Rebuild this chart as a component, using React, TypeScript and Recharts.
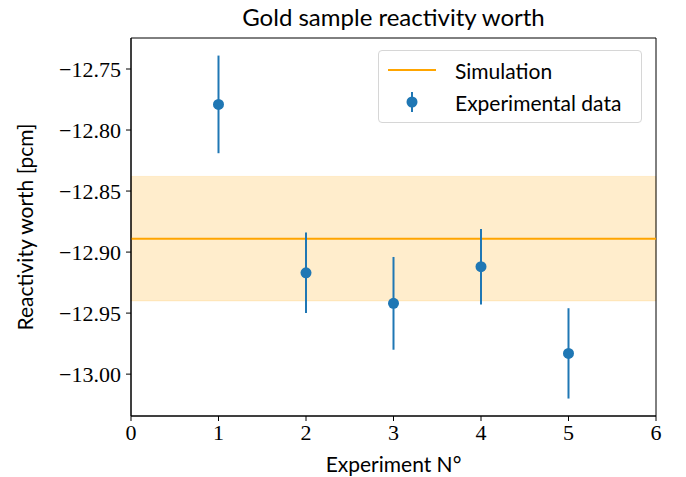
import React from "react";
import {
  ComposedChart,
  Scatter,
  ErrorBar,
  XAxis,
  YAxis,
  ReferenceLine,
  ReferenceArea,
} from "recharts";

// experiment numbers and measured worths [pcm] with 1-sigma errors
const experiments = [1, 2, 3, 4, 5];
const measured = [-12.779, -12.917, -12.942, -12.912, -12.983];
const measuredErr = [0.04, 0.033, 0.038, 0.031, 0.037];

// simulated worth and its uncertainty band
const simulation = -12.889;
const simulationErr = 0.051;

const xTicks = [0, 1, 2, 3, 4, 5, 6];
const yTicks = [-12.75, -12.8, -12.85, -12.9, -12.95, -13.0];
const yDomain: [number, number] = [-13.0343, -12.7246];

const BLUE = "#1f77b4";
const ORANGE = "#ffa500";
const SERIF = "'Liberation Serif', 'DejaVu Serif', serif";
const SANS = "Lato, 'DejaVu Sans', sans-serif";

const points = experiments.map((x, i) => ({ x, y: measured[i], err: measuredErr[i] }));

const fmt = (v: number) => "\u2212" + Math.abs(v).toFixed(2);

const Dot = (props: any) => <circle cx={props.cx} cy={props.cy} r={5.5} fill={BLUE} />;

const LegendBox = () => (
  <div
    style={{
      position: "absolute",
      left: 378,
      top: 50,
      width: 264,
      height: 73,
      boxSizing: "border-box",
      border: "1px solid #d6d6d6",
      borderRadius: 4,
      background: "rgba(255,255,255,0.8)",
      padding: "3px 0 0 8px",
      fontFamily: SANS,
      fontSize: 21,
      color: "#000",
    }}
  >
    <div style={{ display: "flex", alignItems: "center", height: 32 }}>
      <svg width={60} height={20}>
        <line x1={1} y1={10} x2={49} y2={10} stroke={ORANGE} strokeWidth={2} />
      </svg>
      <span style={{ marginLeft: 8 }}>Simulation</span>
    </div>
    <div style={{ display: "flex", alignItems: "center", height: 32 }}>
      <svg width={60} height={24}>
        <line x1={25} y1={2} x2={25} y2={22} stroke={BLUE} strokeWidth={2} />
        <circle cx={25} cy={12} r={5.5} fill={BLUE} />
      </svg>
      <span style={{ marginLeft: 8 }}>Experimental data</span>
    </div>
  </div>
);

export default function App() {
  return (
    <div style={{ position: "absolute", left: 0, top: 0, width: 686, height: 477, background: "#fff" }}>
      <ComposedChart width={686} height={477} margin={{ top: 38, right: 30, bottom: 0, left: 0 }}>
        <XAxis
          type="number"
          dataKey="x"
          domain={[0, 6]}
          ticks={xTicks}
          allowDataOverflow
          height={61}
          tickSize={5}
          tickMargin={3}
          stroke="#000"
          tick={{ fill: "#000", fontFamily: SERIF, fontSize: 22 }}
          label={{
            value: "Experiment N\u00b0",
            position: "insideBottom",
            offset: 5,
            fill: "#000",
            fontFamily: SANS,
            fontSize: 21,
          }}
        />
        <YAxis
          type="number"
          dataKey="y"
          domain={yDomain}
          ticks={yTicks}
          allowDataOverflow
          width={131}
          tickSize={5}
          tickMargin={5}
          stroke="#000"
          tickFormatter={fmt}
          tick={{ fill: "#000", fontFamily: SERIF, fontSize: 22 }}
          label={{
            value: "Reactivity worth [pcm]",
            angle: -90,
            position: "insideLeft",
            offset: 26,
            style: { textAnchor: "middle" },
            fill: "#000",
            fontFamily: SANS,
            fontSize: 21,
          }}
        />
        <ReferenceArea
          x1={0}
          x2={6}
          y1={simulation - simulationErr}
          y2={simulation + simulationErr}
          fill={ORANGE}
          fillOpacity={0.2}
          stroke={ORANGE}
          strokeOpacity={0.15}
        />
        <ReferenceLine y={simulation} stroke={ORANGE} strokeWidth={2} />
        <Scatter data={points} dataKey="y" fill={BLUE} shape={Dot} isAnimationActive={false}>
          <ErrorBar dataKey="err" direction="y" width={0} stroke={BLUE} strokeWidth={2} />
        </Scatter>
        {/* axes frame */}
        <ReferenceArea x1={0} x2={6} y1={yDomain[0]} y2={yDomain[1]} fill="none" stroke="#000" strokeWidth={1} />
      </ComposedChart>
      <div
        style={{
          position: "absolute",
          top: 2,
          left: 131,
          width: 525,
          textAlign: "center",
          fontFamily: SANS,
          fontSize: 24,
          color: "#000",
        }}
      >
        Gold sample reactivity worth
      </div>
      <LegendBox />
    </div>
  );
}
